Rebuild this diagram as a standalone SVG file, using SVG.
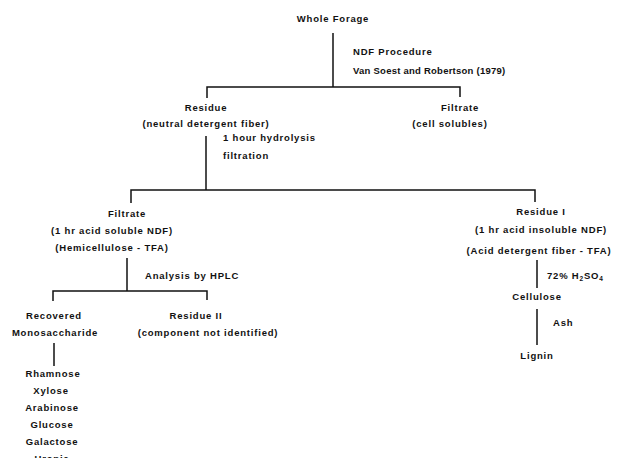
<svg xmlns="http://www.w3.org/2000/svg" width="626" height="458" viewBox="0 0 626 458">
<style>
text{font-family:"Liberation Sans","DejaVu Sans",Arial,sans-serif;font-size:9.5px;font-weight:bold;letter-spacing:0.8px;fill:#111}
.c{text-anchor:middle}
.conn path{fill:none;stroke:#111;stroke-width:1.5}
</style>
<rect width="626" height="458" fill="#fff"/>
<g class="conn" id="connectors">
<path d="M333,33 V87"/>
<path d="M207,98 V87 H460 V97"/>
<path d="M206,136 V190"/>
<path d="M131,203 V190 H535 V202"/>
<path d="M127,258 V291"/>
<path d="M53,301 V291 H207 V300"/>
<path d="M54,343 V366"/>
<path d="M537,260 V288"/>
<path d="M537,309 V345"/>
</g>
<g id="whole-forage"><text class="c" x="333" y="22">Whole Forage</text></g>
<g id="ndf-label"><text x="353" y="55">NDF Procedure</text><text x="353" y="74" textLength="153" lengthAdjust="spacing">Van Soest and Robertson (1979)</text></g>
<g id="residue-ndf"><text class="c" x="206" y="111">Residue</text><text class="c" x="206" y="127">(neutral detergent fiber)</text></g>
<g id="filtrate-cell"><text class="c" x="460" y="111">Filtrate</text><text class="c" x="450" y="127">(cell solubles)</text></g>
<g id="hydrolysis-label"><text x="223" y="141">1 hour hydrolysis</text><text x="223" y="159">filtration</text></g>
<g id="filtrate-hemi"><text class="c" x="127" y="217">Filtrate</text><text class="c" x="112" y="234">(1 hr acid soluble NDF)</text><text class="c" x="112" y="251">(Hemicellulose - TFA)</text></g>
<g id="hplc-label"><text x="145" y="279">Analysis by HPLC</text></g>
<g id="recovered"><text class="c" x="54" y="319">Recovered</text><text class="c" x="55" y="336">Monosaccharide</text></g>
<g id="residue-ii"><text class="c" x="196" y="319">Residue II</text><text class="c" x="208" y="336">(component not identified)</text></g>
<g id="sugars"><text class="c" x="53" y="377">Rhamnose</text><text class="c" x="51" y="394">Xylose</text><text class="c" x="52" y="411">Arabinose</text><text class="c" x="52" y="428">Glucose</text><text class="c" x="52" y="445">Galactose</text><text class="c" x="52" y="462">Uronic</text></g>
<g id="residue-i"><text class="c" x="541" y="215">Residue I</text><text class="c" x="541" y="233">(1 hr acid insoluble NDF)</text><text class="c" x="539" y="254">(Acid detergent fiber - TFA)</text></g>
<g id="h2so4-label"><text x="547" y="279">72% H<tspan dy="2" font-size="6.5">2</tspan><tspan dy="-2">SO</tspan><tspan dy="2" font-size="6.5">4</tspan></text></g>
<g id="cellulose"><text class="c" x="537" y="300">Cellulose</text></g>
<g id="ash-label"><text x="553" y="326">Ash</text></g>
<g id="lignin"><text class="c" x="537" y="359">Lignin</text></g>
</svg>
